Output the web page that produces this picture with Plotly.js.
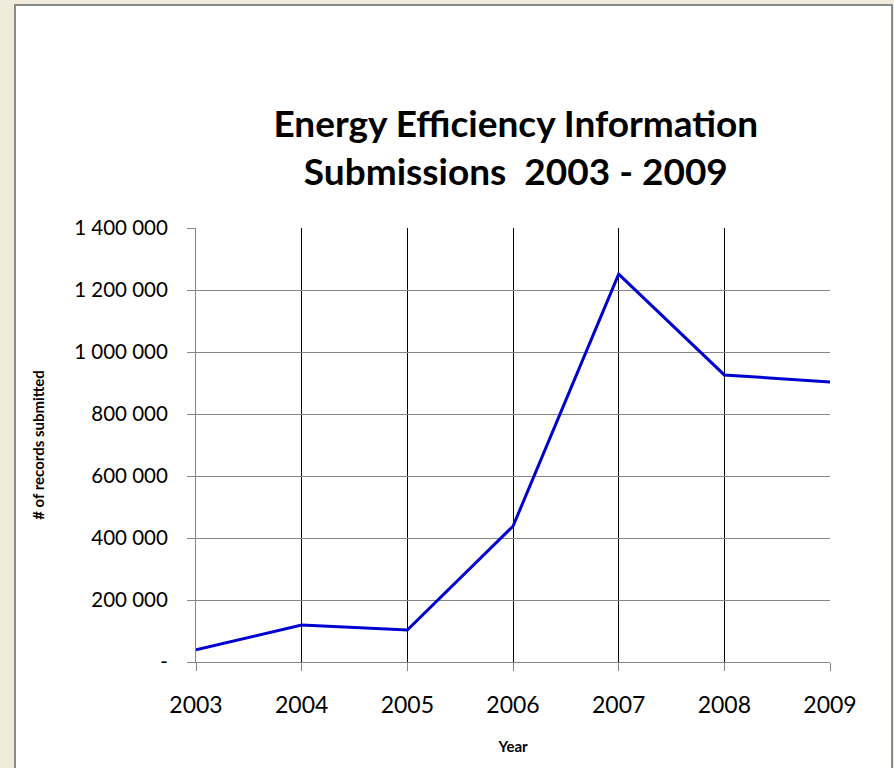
<!DOCTYPE html>
<html>
<head>
<meta charset="utf-8">
<script src="https://cdn.plot.ly/plotly-3.0.1.min.js"></script>
<style>html,body{margin:0;padding:0;background:#F0ECDC;}#chart{width:894px;height:768px;}</style>
</head>
<body>
<div id="chart"></div>
<script>
const years = [2003, 2004, 2005, 2006, 2007, 2008, 2009];
const records = [39000, 119000, 103000, 438000, 1251000, 926000, 903000];
const yTickVals = [0, 200000, 400000, 600000, 800000, 1000000, 1200000, 1400000];
const yTickText = ["-", "200 000", "400 000", "600 000", "800 000", "1 000 000", "1 200 000", "1 400 000"];

const L = 196, R = 64, T = 228, B = 106, W = 894, H = 768;
const pw = W - L - R, ph = H - T - B;
const px = v => (v - L) / pw;
const py = v => (H - B - v) / ph;

const trace = {
  x: years, y: records, type: 'scatter', mode: 'lines',
  line: {color: '#0000D0', width: 3}, hoverinfo: 'x+y'
};

const layout = {
  width: W, height: H,
  margin: {l: L, r: R, t: T, b: B},
  paper_bgcolor: '#F0ECDC',
  plot_bgcolor: '#FFFFFF',
  font: {family: 'Lato, "Open Sans", sans-serif', color: '#000'},
  showlegend: false,
  title: {
    text: '<b>Energy Efficiency Information<br>Submissions  2003 - 2009</b>',
    font: {size: 37, family: 'Lato, "Open Sans", sans-serif', color: '#000'},
    x: 0.577, xanchor: 'center', xref: 'container',
    y: 1 - 137 / H, yanchor: 'middle', yref: 'container'
  },
  xaxis: {
    range: [2003, 2009], tickvals: years, ticktext: years.map(String),
    showgrid: true, gridcolor: '#000000', gridwidth: 1,
    showline: true, linecolor: '#868686', linewidth: 1,
    ticks: 'outside', ticklen: 8, tickcolor: '#868686',
    tickfont: {size: 23}, ticklabelstandoff: 14, zeroline: false,
    title: {text: '<b>Year</b>', font: {size: 15}, standoff: 24}
  },
  yaxis: {
    range: [0, 1400000], tickvals: yTickVals, ticktext: yTickText,
    showgrid: true, gridcolor: '#868686', gridwidth: 1,
    showline: true, linecolor: '#868686', linewidth: 1,
    ticks: 'outside', ticklen: 8, tickcolor: '#868686',
    tickfont: {size: 20.5}, ticklabelstandoff: 15, zeroline: false,
    title: {text: '<b># of records submitted</b>', font: {size: 15}, standoff: 25}
  },
  shapes: [{
    type: 'rect', xref: 'paper', yref: 'paper', layer: 'below',
    x0: px(15), x1: px(892), y0: py(800), y1: py(5),
    fillcolor: '#FFFFFF', line: {color: '#8A8A8A', width: 2}
  }]
};

Plotly.newPlot('chart', [trace], layout, {displayModeBar: false, staticPlot: true});
</script>
</body>
</html>
